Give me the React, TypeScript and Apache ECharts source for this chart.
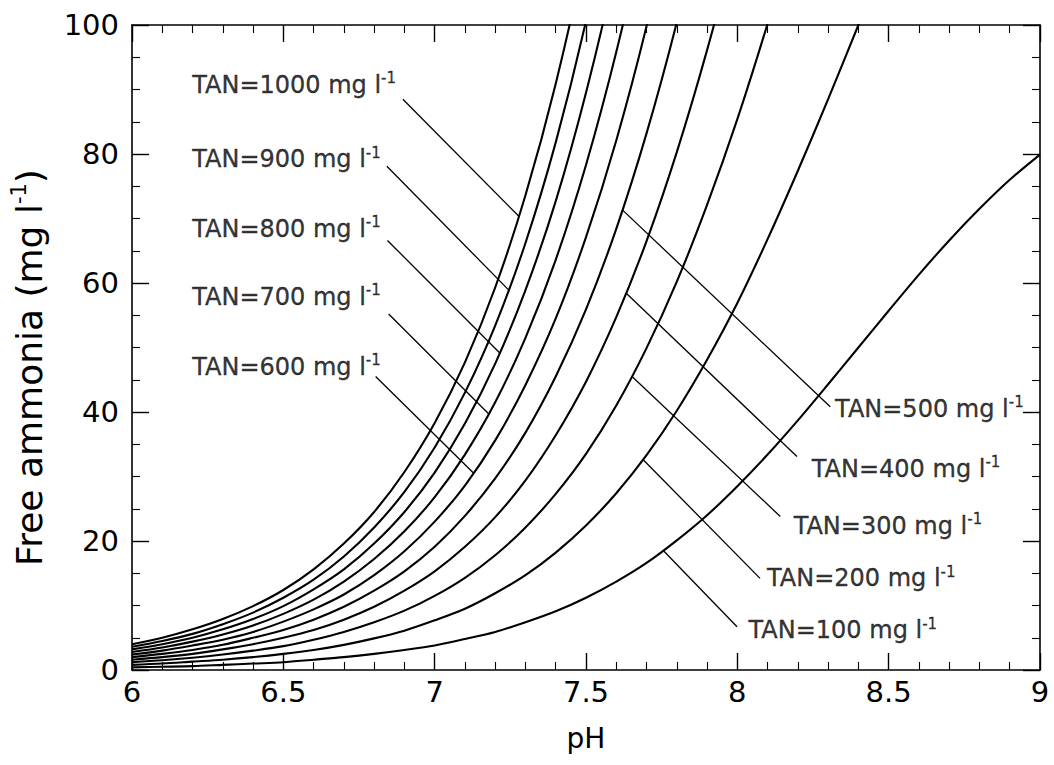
import React, { useEffect, useRef } from "react";
import * as echarts from "echarts";

const FONT = "DejaVu Sans";

// pH grid shared by all curves
const PH = [6.0, 6.1, 6.2, 6.3, 6.4, 6.5, 6.6, 6.7, 6.8, 6.9, 7.0, 7.1, 7.2, 7.3, 7.4, 7.5, 7.6, 7.7, 7.8, 7.9, 8.0, 8.1, 8.2, 8.3, 8.4, 8.5, 8.6, 8.7, 8.8, 8.9, 9.0];

// Free ammonia (mg/l) for each TAN level
const FA_100 = [0.4, 0.5, 0.6, 0.8, 1.0, 1.2, 1.6, 2.0, 2.5, 3.1, 3.8, 4.8, 5.9, 7.4, 9.1, 11.2, 13.7, 16.6, 20.1, 24.0, 28.5, 33.4, 38.7, 44.3, 50.0, 55.7, 61.3, 66.6, 71.5, 76.0, 79.9];
const FA_200 = [0.8, 1.0, 1.3, 1.6, 2.0, 2.5, 3.1, 3.9, 4.9, 6.1, 7.7, 9.5, 11.9, 14.7, 18.2, 22.4, 27.4, 33.3, 40.2, 48.1, 56.9, 66.8, 77.4, 88.5, 100.0, 111.5];
const FA_300 = [1.2, 1.5, 1.9, 2.4, 3.0, 3.7, 4.7, 5.9, 7.4, 9.2, 11.5, 14.3, 17.8, 22.1, 27.3, 33.5, 41.0, 49.9, 60.2, 72.1, 85.4, 100.2, 116.1];
const FA_400 = [1.6, 2.0, 2.5, 3.2, 4.0, 5.0, 6.2, 7.8, 9.8, 12.3, 15.3, 19.1, 23.7, 29.4, 36.4, 44.7, 54.7, 66.5, 80.3, 96.1, 113.9, 133.5];
const FA_500 = [2.0, 2.5, 3.1, 3.9, 5.0, 6.2, 7.8, 9.8, 12.3, 15.3, 19.1, 23.9, 29.7, 36.8, 45.5, 55.9, 68.4, 83.2, 100.4, 120.1];
const FA_600 = [2.4, 3.0, 3.8, 4.7, 5.9, 7.5, 9.4, 11.7, 14.7, 18.4, 23.0, 28.6, 35.6, 44.2, 54.5, 67.1, 82.1, 99.8, 120.5];
const FA_700 = [2.8, 3.5, 4.4, 5.5, 6.9, 8.7, 10.9, 13.7, 17.2, 21.5, 26.8, 33.4, 41.5, 51.5, 63.6, 78.3, 95.8, 116.4, 140.5];
const FA_800 = [3.2, 4.0, 5.0, 6.3, 7.9, 9.9, 12.5, 15.6, 19.6, 24.5, 30.6, 38.2, 47.5, 58.9, 72.7, 89.5, 109.4, 133.1];
const FA_900 = [3.6, 4.5, 5.6, 7.1, 8.9, 11.2, 14.0, 17.6, 22.1, 27.6, 34.5, 43.0, 53.4, 66.2, 81.8, 100.6, 123.1];
const FA_1000 = [4.0, 5.0, 6.3, 7.9, 9.9, 12.4, 15.6, 19.6, 24.5, 30.7, 38.3, 47.7, 59.3, 73.6, 90.9, 111.8, 136.8];

const CURVES = [FA_100, FA_200, FA_300, FA_400, FA_500, FA_600, FA_700, FA_800, FA_900, FA_1000];

// Annotation leader lines, in data coordinates [pH, mg/l]
const LEADERS: [number, number][][] = [
  [[6.895, 88.5], [7.279, 70.3]],
  [[6.842, 78.1], [7.245, 58.9]],
  [[6.844, 66.6], [7.216, 49.1]],
  [[6.848, 55.2], [7.179, 39.7]],
  [[6.805, 45.5], [7.129, 30.5]],
  [[7.621, 71.3], [8.307, 40.8]],
  [[7.633, 58.4], [8.197, 33.1]],
  [[7.652, 45.5], [8.142, 23.8]],
  [[7.689, 32.6], [8.075, 14.2]],
  [[7.756, 18.5], [7.999, 6.7]],
];

// Annotation labels: text and anchor (left-middle) in data coordinates
const LABEL_TEXTS = ["TAN=1000 mg l", "TAN=900 mg l", "TAN=800 mg l", "TAN=700 mg l", "TAN=600 mg l", "TAN=500 mg l", "TAN=400 mg l", "TAN=300 mg l", "TAN=200 mg l", "TAN=100 mg l"];
const LABEL_AT: [number, number][] = [
  [6.199, 90.7], [6.199, 79.2], [6.199, 68.4], [6.199, 57.9], [6.199, 47.0],
  [8.323, 40.5], [8.246, 31.2], [8.186, 22.4], [8.098, 14.2], [8.037, 6.2],
];

const X_RANGE = { min: 6, max: 9, interval: 0.5 };
const Y_RANGE = { min: 0, max: 100, interval: 20 };

const black = "#000";

function lineCfg() {
  return { show: true, onZero: false, lineStyle: { color: black, width: 1.6 } };
}
function tickCfg() {
  return { show: true, inside: true, length: 17, lineStyle: { color: black, width: 1.4 } };
}
function minorCfg(n: number) {
  return { show: true, splitNumber: n, length: 8, lineStyle: { color: black, width: 1.1 } };
}

export default function App() {
  const ref = useRef<HTMLDivElement>(null);

  useEffect(() => {
    const chart = echarts.init(ref.current!, null, { renderer: "svg" });
    const labelRich = {
      a: { fontFamily: FONT, fontSize: 24, color: black, lineHeight: 28, textBorderColor: black, textBorderWidth: 0.35 },
      s: { fontFamily: FONT, fontSize: 15, color: black, verticalAlign: "top", lineHeight: 15, textBorderColor: black, textBorderWidth: 0.3 },
    };

    const curveSeries = CURVES.map((vals) => ({
      type: "line",
      data: vals.map((v, i) => [PH[i], v]),
      smooth: 0.3,
      symbol: "none",
      clip: true,
      silent: true,
      lineStyle: { color: black, width: 2.1 },
      z: 3,
    }));

    const leaderSeries = LEADERS.map((seg) => ({
      type: "line",
      data: seg,
      symbol: "none",
      clip: true,
      silent: true,
      lineStyle: { color: black, width: 1.3 },
      z: 2,
    }));

    const labelSeries = {
      type: "scatter",
      symbolSize: 0,
      silent: true,
      itemStyle: { color: "rgba(0,0,0,0)" },
      data: LABEL_TEXTS.map((t, i) => ({
        value: LABEL_AT[i],
        label: {
          show: true,
          position: "right",
          distance: 0,
          formatter: `{a|${t}}{s|-1}`,
          rich: labelRich,
        },
      })),
      z: 4,
    };

    chart.setOption({
      animation: false,
      backgroundColor: "#fff",
      grid: { left: 132, right: 14, top: 25, bottom: 95, containLabel: false },
      xAxis: [
        {
          type: "value",
          ...X_RANGE,
          position: "bottom",
          axisLine: lineCfg(),
          axisTick: tickCfg(),
          minorTick: minorCfg(5),
          splitLine: { show: false },
          axisLabel: { show: true, color: black, fontFamily: FONT, fontSize: 29, margin: 7 },
          name: "pH",
          nameLocation: "middle",
          nameGap: 54,
          nameTextStyle: { color: black, fontFamily: FONT, fontSize: 28 },
        },
        {
          type: "value",
          ...X_RANGE,
          position: "top",
          axisLine: lineCfg(),
          axisTick: tickCfg(),
          minorTick: minorCfg(5),
          splitLine: { show: false },
          axisLabel: { show: false },
        },
      ],
      yAxis: [
        {
          type: "value",
          ...Y_RANGE,
          position: "left",
          axisLine: lineCfg(),
          axisTick: tickCfg(),
          minorTick: minorCfg(4),
          splitLine: { show: false },
          axisLabel: { show: true, color: black, fontFamily: FONT, fontSize: 29, margin: 13 },
          name: "{a|Free ammonia (mg l}{s|-1}{a|)}",
          nameLocation: "middle",
          nameGap: 82,
          nameRotate: 90,
          nameTextStyle: {
            color: black,
            fontFamily: FONT,
            fontSize: 36,
            padding: [0, 40, 0, 0],
            rich: {
              a: { fontFamily: FONT, fontSize: 36, color: black, lineHeight: 42 },
              s: { fontFamily: FONT, fontSize: 21, color: black, verticalAlign: "top", lineHeight: 21 },
            },
          },
        },
        {
          type: "value",
          ...Y_RANGE,
          position: "right",
          axisLine: lineCfg(),
          axisTick: tickCfg(),
          minorTick: minorCfg(4),
          splitLine: { show: false },
          axisLabel: { show: false },
        },
      ],
      series: [...curveSeries, ...leaderSeries, labelSeries],
    });

    return () => chart.dispose();
  }, []);

  return (
    <div
      ref={ref}
      style={{ position: "absolute", left: 0, top: 0, width: 1054, height: 765, background: "#fff" }}
    />
  );
}
